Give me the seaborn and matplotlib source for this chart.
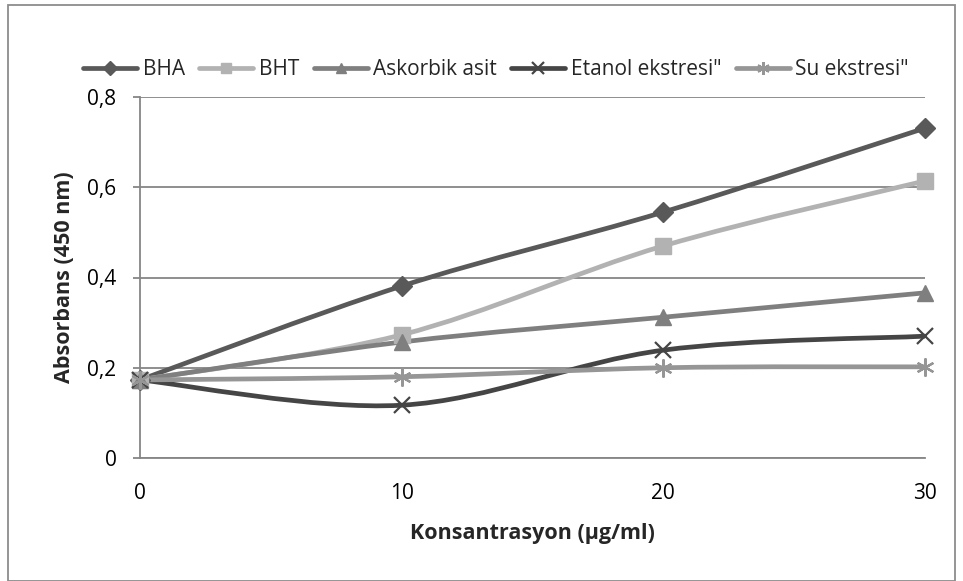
import numpy as np
import pandas as pd
import matplotlib
matplotlib.use("Agg")
import matplotlib.pyplot as plt
import seaborn as sns
from matplotlib.path import Path
from matplotlib.patches import PathPatch, Rectangle
from matplotlib.lines import Line2D
from matplotlib.ticker import FuncFormatter

# ---- data ----
concentration = [0, 10, 20, 30]
series_names = ["BHA", "BHT", "Askorbik asit", "Etanol ekstresi\"", "Su ekstresi\""]
bha = [0.173, 0.381, 0.545, 0.731]
bht = [0.173, 0.273, 0.470, 0.614]
askorbik = [0.173, 0.257, 0.312, 0.366]
etanol = [0.173, 0.117, 0.239, 0.270]
su = [0.173, 0.180, 0.200, 0.202]
y_ticks = [0, 0.2, 0.4, 0.6, 0.8]
x_ticks = [0, 10, 20, 30]

values = [bha, bht, askorbik, etanol, su]
df = pd.DataFrame({
    "x": concentration * len(series_names),
    "y": sum(values, []),
    "series": sum([[n] * len(concentration) for n in series_names], []),
})

colors = ["#595959", "#b2b2b2", "#7f7f7f", "#454545", "#969696"]
markers = ["D", "s", "^", "x", (6, 2, 0)]
msizes = [10, 11, 11, 12, 13]
mews = [1, 1, 1, 1.6, 1.6]

sns.set_theme(style="white")
plt.rcParams["font.family"] = ["Open Sans", "DejaVu Sans"]

fig = plt.figure(figsize=(9.63, 5.81), dpi=100)
ax = fig.add_axes([140 / 963, 1 - 458 / 581, (925 - 140) / 963, (458 - 97) / 581])


def smooth_path(xs, ys):
    pts = list(zip(xs, ys))
    verts = [pts[0]]
    codes = [Path.MOVETO]
    n = len(pts)
    for i in range(n - 1):
        p0 = np.array(pts[i - 1] if i > 0 else pts[i])
        p1 = np.array(pts[i])
        p2 = np.array(pts[i + 1])
        p3 = np.array(pts[i + 2] if i + 2 < n else pts[i + 1])
        c1 = p1 + (p2 - p0) / 6.0
        c2 = p2 - (p3 - p1) / 6.0
        verts += [tuple(c1), tuple(c2), tuple(p2)]
        codes += [Path.CURVE4] * 3
    return Path(verts, codes)


for i, name in enumerate(series_names):
    sub = df[df.series == name]
    path = smooth_path(sub.x.tolist(), sub.y.tolist())
    ax.add_patch(PathPatch(path, facecolor="none", edgecolor=colors[i], lw=3.4,
                           zorder=3 + i * 0.1, capstyle="round", joinstyle="round"))
    sns.lineplot(data=sub, x="x", y="y", ax=ax, color=colors[i], marker=markers[i],
                 markersize=msizes[i], markeredgecolor=colors[i], markeredgewidth=mews[i],
                 linestyle="", legend=False, zorder=4 + i * 0.1, clip_on=False)

ax.set_xlim(0, 30)
ax.set_ylim(0, 0.8)
ax.set_xticks(x_ticks)
ax.set_yticks(y_ticks)
ax.yaxis.set_major_formatter(FuncFormatter(lambda v, p: "0" if v == 0 else f"{v:.1f}".replace(".", ",")))
ax.grid(axis="y", color="#868686", lw=1.3)
ax.grid(axis="x", visible=False)
for s in ["top", "right"]:
    ax.spines[s].set_visible(False)
for s in ["left", "bottom"]:
    ax.spines[s].set_color("#868686")
    ax.spines[s].set_linewidth(1.3)
ax.tick_params(axis="y", length=5, width=1.3, color="#868686", left=True, labelsize=15, pad=12)
ax.tick_params(axis="x", length=0, labelsize=15, pad=18)
for lbl in ax.get_xticklabels() + ax.get_yticklabels():
    lbl.set_color("black")

ax.set_xlabel("Konsantrasyon (µg/ml)", fontsize=15.5, fontweight="bold", labelpad=14)
ax.set_ylabel("Absorbans (450 nm)", fontsize=15.5, fontweight="bold", labelpad=9)

handles = [Line2D([0], [0], color=colors[i], lw=3.4, marker=markers[i], markersize=msizes[i] * 0.7,
                  markeredgecolor=colors[i], markeredgewidth=mews[i]) for i in range(len(series_names))]
fig.legend(handles, series_names, loc="center", bbox_to_anchor=(496 / 963, 1 - 70 / 581), ncol=5,
           frameon=False, fontsize=15, handlelength=2.6, handletextpad=0.25, columnspacing=0.7)

fig.patches.append(Rectangle((8 / 963, 0), (955 - 8) / 963, 1 - 5 / 581, transform=fig.transFigure,
                             fill=False, edgecolor="#8c8c8c", lw=1.3))

fig.savefig("out.png", dpi=100)
